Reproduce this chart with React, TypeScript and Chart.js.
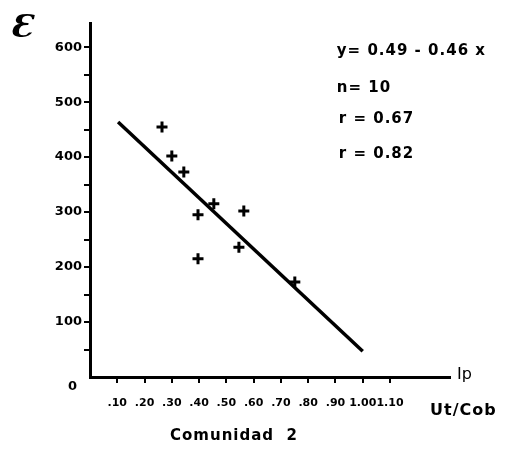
import React, { useEffect, useRef } from "react";
import { Chart, registerables } from "chart.js";

Chart.register(...registerables);

// Observed points (Ut/Cob, E)
const pointX = [0.264, 0.3, 0.344, 0.454, 0.396, 0.564, 0.546, 0.396, 0.751];
const pointY = [455, 402, 373, 315, 295, 302, 236, 215, 173];

// Regression line end points
const fitX = [0.103, 1.0];
const fitY = [464, 47];

// Axis ticks
const xTicks = [0.1, 0.2, 0.3, 0.4, 0.5, 0.6, 0.7, 0.8, 0.9, 1.0, 1.1];
const yTicks = [50, 100, 150, 200, 250, 300, 350, 400, 450, 500, 550, 600];
const yLabelled = [100, 200, 300, 400, 500, 600];

const statLines = ["y= 0.49 - 0.46 x", "n= 10", "r = 0.67", "r = 0.82"];

const FONT = "'DejaVu Sans', sans-serif";

export default function App() {
  const ref = useRef<HTMLCanvasElement | null>(null);

  useEffect(() => {
    document.body.style.margin = "0";
    const canvas = ref.current;
    if (!canvas) return;

    const textPlugin = {
      id: "textPlugin",
      afterDraw(chart: any) {
        const ctx = chart.ctx as any;
        const xs = chart.scales.x;
        const ys = chart.scales.y;
        ctx.save();
        ctx.fillStyle = "#000";
        // zero label on y axis
        ctx.font = `bold 13px ${FONT}`;
        ctx.textAlign = "right";
        ctx.textBaseline = "middle";
        ctx.fillText("0", ys.right - 13, ys.getPixelForValue(0) + 10);
        // statistics block
        ctx.textAlign = "left";
        ctx.textBaseline = "alphabetic";
        ctx.font = `bold 15px ${FONT}`;
        ctx.letterSpacing = "1px";
        const sx = xs.getPixelForValue(0.905);
        const baselines = [55, 92, 123, 158];
        statLines.forEach((t, i) => ctx.fillText(t, sx + (i >= 2 ? 2 : 0), baselines[i]));
        // axis titles
        ctx.letterSpacing = "0px";
        ctx.font = `bold italic 32px 'DejaVu Serif', serif`;
        ctx.fillText("Ɛ", 10, 37);
        ctx.font = `16px ${FONT}`;
        ctx.textBaseline = "middle";
        ctx.fillText("Ip", xs.right + 7, ys.getPixelForValue(0) - 2);
        ctx.font = `bold 16px ${FONT}`;
        ctx.letterSpacing = "1px";
        ctx.fillText("Ut/Cob", 430, 411);
        ctx.textAlign = "center";
        ctx.font = `bold 15px ${FONT}`;
        ctx.fillText("Comunidad  2", 234, 436);
        ctx.restore();
      },
    };

    const chart = new Chart(canvas, {
      type: "scatter",
      data: {
        datasets: [
          {
            label: "fit",
            data: fitX.map((x, i) => ({ x, y: fitY[i] })),
            showLine: true,
            borderColor: "#000",
            borderWidth: 3.5,
            pointRadius: 0,
            backgroundColor: "#000",
          },
          {
            label: "points",
            data: pointX.map((x, i) => ({ x, y: pointY[i] })),
            pointStyle: "cross",
            pointRadius: 5.5,
            borderWidth: 3,
            borderColor: "#000",
            backgroundColor: "#000",
          },
        ],
      },
      options: {
        responsive: false,
        animation: false,
        devicePixelRatio: 1,
        layout: { padding: { top: 23, right: 64, left: 0, bottom: 0 } },
        plugins: { legend: { display: false }, tooltip: { enabled: false } },
        scales: {
          x: {
            type: "linear",
            min: 0,
            max: 1.32,
            afterFit: (s: any) => {
              s.height = 72;
            },
            afterBuildTicks: (s: any) => {
              s.ticks = xTicks.map((v) => ({ value: v }));
            },
            ticks: {
              color: "#000",
              font: { family: FONT, weight: "bold", size: 11 },
              padding: 14,
              maxRotation: 0,
              autoSkip: false,
              callback: (v: any) => {
                const n = Number(v);
                return n < 1 ? "." + Math.round(n * 100) : n.toFixed(2);
              },
            },
            grid: {
              display: true,
              drawOnChartArea: false,
              drawTicks: true,
              tickLength: 6,
              color: "#000",
              lineWidth: 2,
            },
            border: { display: true, color: "#000", width: 3 },
          },
          y: {
            type: "linear",
            min: 0,
            max: 644,
            afterFit: (s: any) => {
              s.width = 90;
            },
            afterBuildTicks: (s: any) => {
              s.ticks = yTicks.map((v) => ({ value: v }));
            },
            ticks: {
              color: "#000",
              font: { family: FONT, weight: "bold", size: 13 },
              padding: 2,
              autoSkip: false,
              callback: (v: any) => (yLabelled.includes(Number(v)) ? String(v) : ""),
            },
            grid: {
              display: true,
              drawOnChartArea: false,
              drawTicks: true,
              tickLength: 6,
              color: "#000",
              lineWidth: 2,
            },
            border: { display: true, color: "#000", width: 3 },
          },
        },
      },
      plugins: [textPlugin],
    });

    return () => chart.destroy();
  }, []);

  return (
    <div style={{ position: "absolute", left: 0, top: 0, width: 514, height: 449, background: "#fff" }}>
      <canvas ref={ref} width={514} height={449} />
    </div>
  );
}
